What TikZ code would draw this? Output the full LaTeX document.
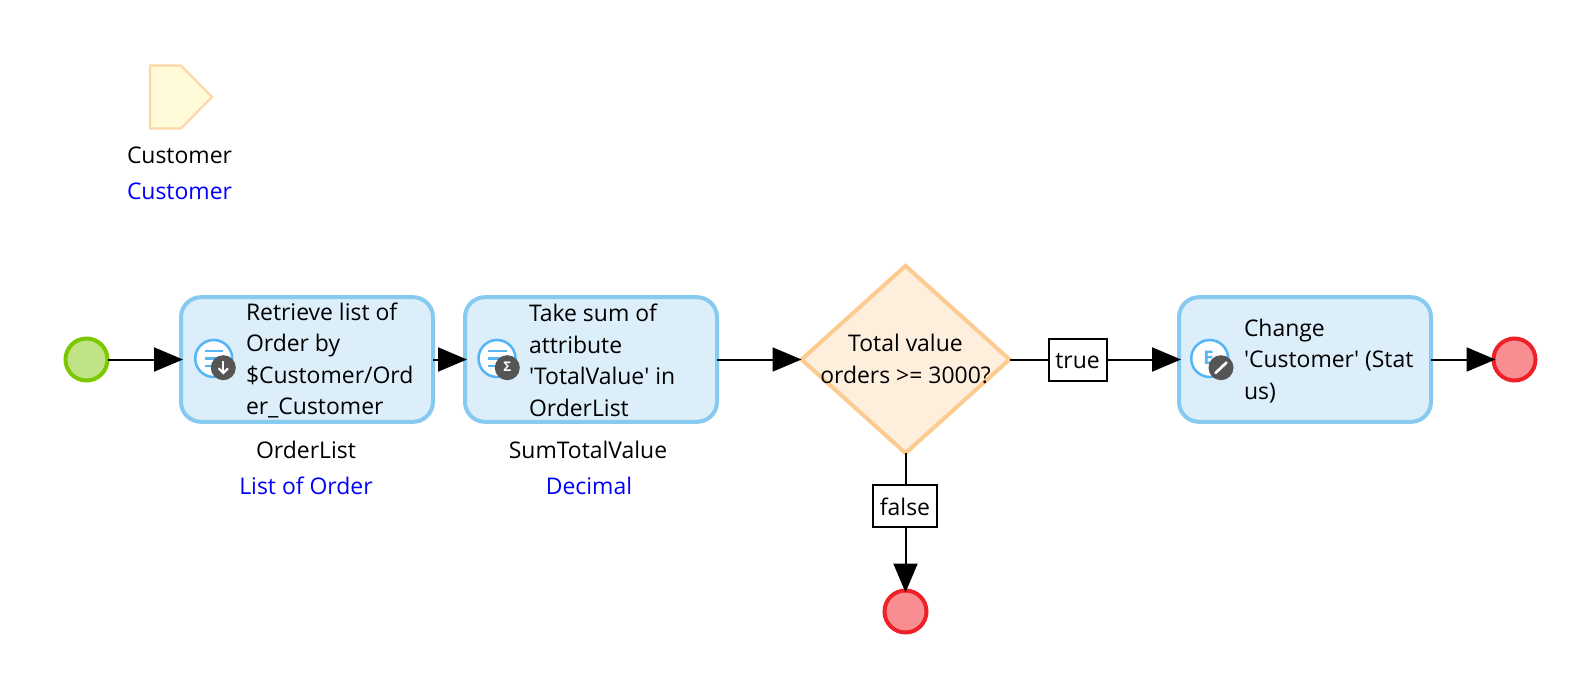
\documentclass[tikz,border=0pt]{standalone}
\usepackage{fontspec}
\setmainfont{Open Sans}
\usetikzlibrary{shapes.geometric,arrows.meta}
\definecolor{actfill}{HTML}{DBEEFA}
\definecolor{actline}{HTML}{86CAEF}
\definecolor{decfill}{HTML}{FEEEDC}
\definecolor{decline}{HTML}{FDCA8F}
\definecolor{parfill}{HTML}{FFFBD9}
\definecolor{parline}{HTML}{FDD7A5}
\definecolor{startfill}{HTML}{C0E386}
\definecolor{startline}{HTML}{7BC800}
\definecolor{endfill}{HTML}{F98E92}
\definecolor{endline}{HTML}{EE2128}
\definecolor{ringline}{HTML}{55B5F5}
\definecolor{badgefill}{HTML}{555555}
\tikzset{
    x=0.75pt, y=-0.75pt,
    every node/.style={font=\fontsize{17.2pt}{23.6pt}\selectfont, outer sep=0, inner sep=0},
    action/.style={draw=actline, fill=actfill, line width=3pt, rounded corners=15pt, minimum width=189pt, minimum height=93.5pt},
    acttext/.style={anchor=west, align=left},
    decision/.style={diamond, draw=decline, fill=decfill, line width=3pt, minimum width=156pt, minimum height=140.5pt},
    startev/.style={circle, draw=startline, fill=startfill, line width=3pt, minimum size=31.5pt},
    endev/.style={circle, draw=endline, fill=endfill, line width=3pt, minimum size=31.5pt},
    caselbl/.style={draw=black, fill=white, line width=1.5pt, minimum height=31.5pt, text height=15pt, text depth=1.5pt},
    varname/.style={text=black},
    vartype/.style={text=blue},
    arr/.style={line width=1.5pt, -{Triangle[length=21.75pt, width=18pt]}, shorten >=-1.5pt},
    plainline/.style={line width=1.5pt},
    badge/.style={circle, fill=badgefill, minimum size=18.75pt},
    ringlist/.pic={
        \draw[ringline, fill=white, line width=1.9pt] (0,0) circle (18.5);
        \draw[ringline, line width=1.9pt] (-8.7,-7.7) -- (9.6,-7.7)
                (-8.7,0) -- (5,0)
                (-8.7,7.7) -- (0,7.7);
    }
}
\begin{document}
\begin{tikzpicture}
\useasboundingbox (0,0) rectangle (1593,688);
% parameter
\draw[draw=parline, fill=parfill, line width=1.6pt] (150,65.5) -- (181,65.5) -- (212,97) -- (181,128.5) -- (150,128.5) -- cycle;
\node[varname] (parname) at (179.5,155.5) {Customer};
\node[vartype] (partype) at (179.5,191.5) {Customer};

\node[startev] (start) at (86.5,359.5) {};
\node[action] (retrieve) at (307,359.5) {};
\node[action] (sum) at (591,359.5) {};
\node[decision] (check) at (905.5,359.5) {};
\node[align=center] (checktxt) at (905.5,359) {Total value\\orders >= 3000?};
\node[caselbl, minimum width=43.5pt] (truelbl) at (1077.5,359.5) {true};
\node[caselbl, minimum width=48.5pt] (falselbl) at (905,506) {false};
\node[action] (change) at (1305,359.5) {};
\node[endev] (endtrue) at (1514.5,359.5) {};
\node[endev] (endfalse) at (905.5,611.5) {};

\node[acttext] (retrievetxt) at (246,360.5) {Retrieve list of\\Order by\\\$Customer/Ord\\er\_Customer};
\node[acttext] (sumtxt) at (529,360.5) {Take sum of\\attribute\\\textquotesingle TotalValue\textquotesingle{} in\\OrderList};
\node[acttext] (changetxt) at (1244,361) {Change\\\textquotesingle Customer\textquotesingle{} (Stat\\us)};

\node[varname] (listname) at (306,450) {OrderList};
\node[vartype] (listtype) at (306,486) {List of Order};
\node[varname] (sumname) at (588,450) {SumTotalValue};
\node[vartype] (sumtype) at (589,486) {Decimal};

% icons
\pic at (213.7,358.5) {ringlist};
\node[badge] (retrievebadge) at (223.3,367.7) {};
\draw[white, line width=1.6pt, -{Straight Barb[length=3.5pt, width=7pt]}] (223.3,361) -- (223.3,374.5);
\pic at (497,358.5) {ringlist};
\node[badge] (sumbadge) at (507.3,367.7) {};
\node[text=white, font=\fontsize{10pt}{10pt}\bfseries\selectfont] (sumsign) at (507.3,367.2) {Σ};
\draw[ringline, fill=white, line width=1.9pt] (1209.7,358.5) circle (18.5);
\node[text=ringline, font=\fontsize{14pt}{14pt}\bfseries\selectfont] (changeletter) at (1208.5,357.5) {E};
\node[badge] (changebadge) at (1221,367.7) {};
\draw[white, line width=2pt, line cap=round] (1215.5,373) -- (1226.5,362.5);

\draw[arr] (start) -- (retrieve);
\draw[arr] (retrieve) -- (sum);
\draw[arr, shorten >=0pt] (sum) -- (check);
\draw[plainline] (check) -- (truelbl);
\draw[arr] (truelbl) -- (change);
\draw[arr] (change) -- (endtrue);
\draw[plainline] (check.south) -- (check.south |- falselbl.north);
\draw[arr] (check.south |- falselbl.south) -- (endfalse);
\end{tikzpicture}
\end{document}
